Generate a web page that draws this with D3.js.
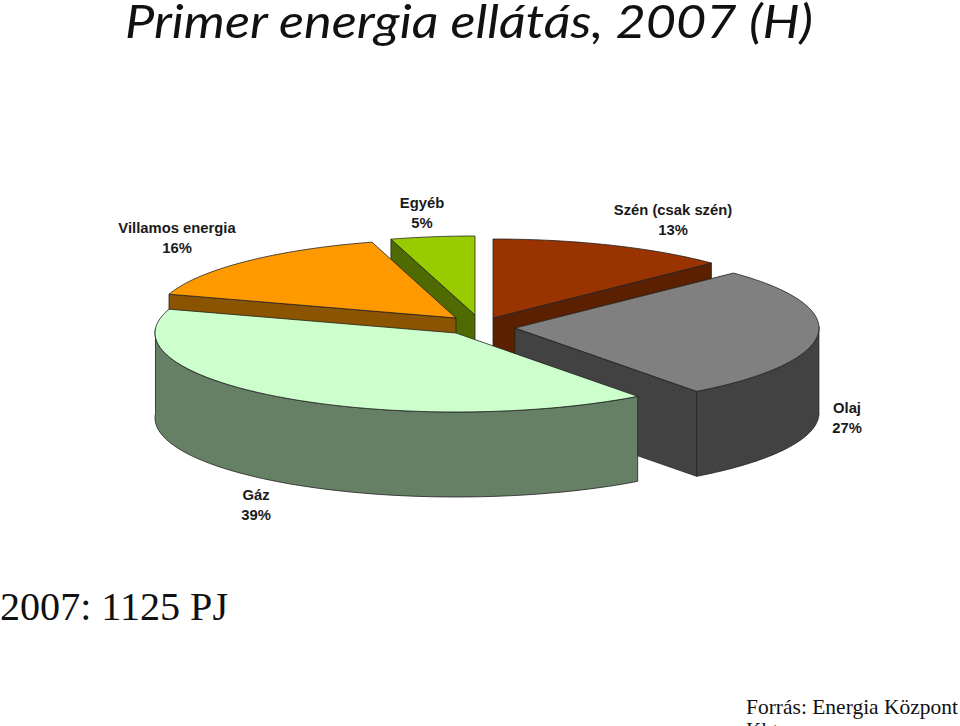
<!DOCTYPE html>
<html>
<head>
<meta charset="utf-8">
<script src="https://d3js.org/d3.v7.min.js"></script>
<style>
html,body {margin:0;padding:0;background:#fff;overflow:hidden;}
.label {font-family:"Liberation Sans",sans-serif;font-weight:bold;font-size:14.8px;fill:#1a1a1a;text-anchor:middle;}
.title {font-family:Lato,sans-serif;font-style:italic;font-size:47px;fill:#111;}
.note {font-family:"Liberation Serif",serif;fill:#111;}
</style>
</head>
<body>
<svg id="chart" width="960" height="726"></svg>
<script>
// values, clockwise from 12 o'clock
var categories = ["Szén (csak szén)", "Olaj", "Gáz", "Villamos energia", "Egyéb"];
var shares = [13, 27, 39, 16, 5];

var topColors = ["#993300", "#808080", "#ccffcc", "#ff9900", "#99cc00"];
var wallColors = ["#5a2000", "#424242", "#668066", "#8a5400", "#4f6a00"];
var labelSpots = [[673,215], [847,413], [256,500], [177,233], [422,208]];
// where each exploded slice has its tip
var tips = [[493,318], [515,328], [456,333], [456,318], [475,315]];

var rxRight = 304, rxLeft = 301, ry = 79, depth = 85;
var deg = Math.PI / 180;

var svg = d3.select("#chart");

var arcs = d3.pie().sort(null).value(function(d) { return d; })(shares);

// angle to the flattened circle, the view bends the angles a little
function project(a, tip) {
  var s = Math.sin(a);
  var b = s > 0 ? a - 1.2 * deg * s : a + 3.2 * deg * Math.sqrt(-s);
  var rx = s > 0 ? rxRight : rxLeft;
  return [tip[0] + rx * Math.sin(b), tip[1] - ry * Math.cos(b)];
}

function wallPath(pts) {
  var down = pts.map(function(p) { return [p[0], p[1] + depth]; }).reverse();
  return d3.line()(pts.concat(down)) + "Z";
}

function arcPoints(a0, a1) {
  return d3.range(0, 61).map(function(i) { return a0 + (a1 - a0) * i / 60; });
}

// back slices first, the two front ones last
var order = [0, 4, 3, 1, 2];

order.forEach(function(i) {
  var d = arcs[i];
  var tip = tips[i];
  var g = svg.append("g");

  // only the cut faces turned to the viewer
  [d.startAngle, d.endAngle].forEach(function(a, k) {
    var normal = a + (k ? 1 : -1) * Math.PI / 2;
    if (Math.cos(normal) < -0.001) {
      g.append("path").attr("d", wallPath([tip, project(a, tip)]))
        .attr("fill", wallColors[i]).attr("stroke", "#222").attr("stroke-width", 0.8);
    }
  });

  // rim, front half of the circle only
  var r0 = Math.max(d.startAngle, Math.PI / 2), r1 = Math.min(d.endAngle, 3 * Math.PI / 2);
  if (r0 < r1) {
    g.append("path").attr("d", wallPath(arcPoints(r0, r1).map(function(a) { return project(a, tip); })))
      .attr("fill", wallColors[i]).attr("stroke", "#222").attr("stroke-width", 0.8);
  }

  var rim = arcPoints(d.startAngle, d.endAngle).map(function(a) { return project(a, tip); });
  g.append("path").attr("d", d3.line()([tip].concat(rim)) + "Z")
    .attr("fill", topColors[i]).attr("stroke", "#222").attr("stroke-width", 0.8);
});

var labels = svg.selectAll("g.lab").data(categories).enter().append("g").attr("class", "lab")
  .attr("transform", function(d, i) { return "translate(" + labelSpots[i] + ")"; });
labels.append("text").attr("class", "label").text(function(d) { return d; });
labels.append("text").attr("class", "label").attr("y", 20).text(function(d, i) { return shares[i] + "%"; });

svg.append("text").attr("class", "title").attr("x", 125).attr("y", 38)
  .attr("textLength", 688).attr("lengthAdjust", "spacingAndGlyphs").text("Primer energia ellátás, 2007 (H)");
svg.append("text").attr("class", "note").attr("x", 0).attr("y", 620).style("font-size", "41px")
  .attr("textLength", 228).attr("lengthAdjust", "spacingAndGlyphs").text("2007: 1125 PJ");
svg.append("text").attr("class", "note").attr("x", 746).attr("y", 714).style("font-size", "21.5px")
  .attr("textLength", 212).attr("lengthAdjust", "spacingAndGlyphs").text("Forrás: Energia Központ");
svg.append("text").attr("class", "note").attr("x", 746).attr("y", 737).style("font-size", "21.5px").text("Kht.");
</script>
</body>
</html>
